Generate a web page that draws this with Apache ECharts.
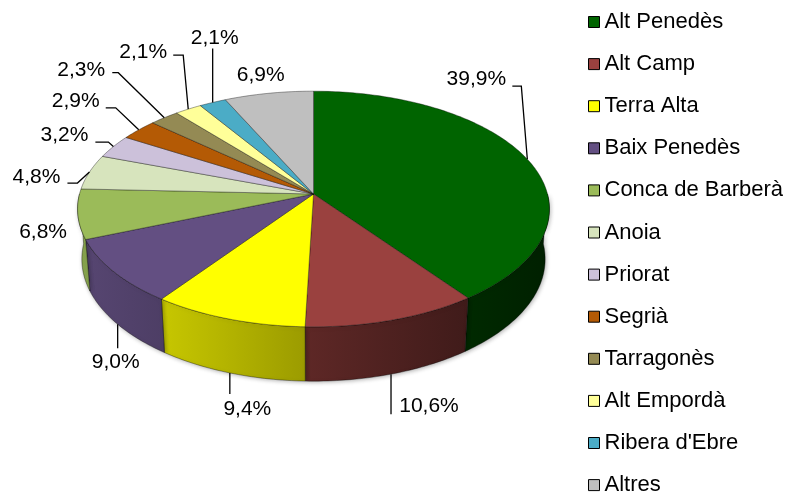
<!DOCTYPE html>
<html>
<head>
<meta charset="utf-8">
<script src="https://cdn.jsdelivr.net/npm/echarts@6/dist/echarts.min.js"></script>
<style>
  html, body { margin: 0; padding: 0; background: #ffffff; }
  #chart { width: 795px; height: 495px; }
</style>
</head>
<body>
<div id="chart"></div>
<script>
// Share of each comarca (%)
const categories = ['Alt Penedès', 'Alt Camp', 'Terra Alta', 'Baix Penedès', 'Conca de Barberà', 'Anoia',
  'Priorat', 'Segrià', 'Tarragonès', 'Alt Empordà', "Ribera d'Ebre", 'Altres'];
const shares = [39.9, 10.6, 9.4, 9.0, 6.8, 4.8, 3.2, 2.9, 2.3, 2.1, 2.1, 6.9];

// Slice colours
const palette = ['#006400', '#9A413F', '#FFFF00', '#634F82', '#9BBB59', '#D7E4BD',
  '#CCC1DA', '#B45A05', '#948A54', '#FFFF99', '#4BACC6', '#BFBFBF'];

// Label placement relative to the slice's edge point, plus leader line bends
const labelLayout = [
  { dx: -51, dy: -80, line: [[-6, -73], [-15, -73]] },
  { dx: 38, dy: 32, line: [[0, 40]] },
  { dx: 17.5, dy: 36, line: [[0, 21]] },
  { dx: -2, dy: 38, line: [[0, 24]] },
  { dx: -39, dy: -32, line: [] },
  { dx: -53, dy: 5, line: [[-12, 11], [-22, 11]] },
  { dx: -49, dy: -11.5, line: [[-5, -4.5], [-18, -4.5]] },
  { dx: -63, dy: -29, line: [[-23, -22], [-33, -22]] },
  { dx: -83, dy: -48, line: [[-46, -45], [-52, -45]] },
  { dx: -45, dy: -57, line: [[-5, -54], [-15, -54]] },
  { dx: 2, dy: -64, line: [[0, -54]] },
  { dx: -8, dy: -18, line: [] }
];

const FONT = '"Liberation Sans", Arial, sans-serif';

// Perspective view of a flat cylinder (unit radius)
const view = { cx: 313.5, cy: 194, halfWidth: 234, dist: 6.83, tiltDeg: 29.7, thickness: 0.25 };
const sa = Math.sin(view.tiltDeg * Math.PI / 180);
const ca = Math.cos(view.tiltDeg * Math.PI / 180);
const F = view.halfWidth * view.dist;

// phi: degrees clockwise from the back (12 o'clock), r: radius, h: height (0 = top face)
function project(phi, r, h) {
  const p = phi * Math.PI / 180;
  const x = r * Math.sin(p), z = -r * Math.cos(p), y = h;
  const yc = y * ca - z * sa;
  const zc = z * ca + y * sa;
  const s = F / (view.dist - zc);
  return [view.cx + x * s, view.cy - yc * s];
}

const total = shares.reduce((a, b) => a + b, 0);
const startDeg = [];
shares.reduce((acc, v, i) => { startDeg[i] = acc / total * 360; return acc + v; }, 0);

function shade(hex, k) {
  const n = parseInt(hex.slice(1), 16);
  const r = Math.round(((n >> 16) & 255) * k);
  const g = Math.round(((n >> 8) & 255) * k);
  const b = Math.round((n & 255) * k);
  return 'rgb(' + r + ',' + g + ',' + b + ')';
}

function wallFill(hex) {
  const left = view.cx - view.halfWidth, right = view.cx + view.halfWidth;
  return new echarts.graphic.LinearGradient(left, 0, right, 0, [
    { offset: 0, color: shade(hex, 0.88) },
    { offset: 1, color: shade(hex, 0.32) }
  ], true);
}

function arcPoints(a0, a1, r, h) {
  const n = Math.max(2, Math.ceil((a1 - a0) / 1));
  const pts = [];
  for (let k = 0; k <= n; k++) pts.push(project(a0 + (a1 - a0) * k / n, r, h));
  return pts;
}

function renderSlice(i) {
  const a0 = startDeg[i];
  const a1 = a0 + shares[i] / total * 360;
  const color = palette[i];
  const children = [];

  // Outer wall, only where it faces the viewer
  const lo = Math.max(a0, 90), hi = Math.min(a1, 270);
  if (hi > lo) {
    const top = arcPoints(lo, hi, 1, 0);
    const bot = arcPoints(lo, hi, 1, -view.thickness).reverse();
    children.push({
      type: 'polygon', z2: 1,
      shape: { points: top.concat(bot) },
      style: {
        fill: wallFill(color), stroke: 'rgba(0,0,0,0.6)', lineWidth: 0.6,
        shadowBlur: 4, shadowColor: 'rgba(0,0,0,0.3)', shadowOffsetX: 1, shadowOffsetY: 1
      }
    });
  }

  // Top face
  children.push({
    type: 'polygon', z2: 5,
    shape: { points: [project(0, 0, 0)].concat(arcPoints(a0, a1, 1, 0)) },
    style: { fill: color, stroke: 'rgba(0,0,0,0.6)', lineWidth: 0.6 }
  });

  // Percentage label with leader line
  const mid = (a0 + a1) / 2;
  const front = mid > 90 && mid < 270;
  const anchor = project(mid, 1, front ? -view.thickness : 0);
  const lay = labelLayout[i];
  if (lay.line.length) {
    const pts = [anchor].concat(lay.line.map(p => [anchor[0] + p[0], anchor[1] + p[1]]));
    children.push({
      type: 'polyline', z2: 20,
      shape: { points: pts },
      style: { stroke: '#000', lineWidth: 1.3, fill: null }
    });
  }
  children.push({
    type: 'text', z2: 21,
    x: anchor[0] + lay.dx, y: anchor[1] + lay.dy,
    style: {
      text: shares[i].toFixed(1).replace('.', ',') + '%',
      fill: '#000', fontSize: 21, fontFamily: FONT,
      align: 'center', verticalAlign: 'middle'
    }
  });

  return { type: 'group', children };
}

const chart = echarts.init(document.getElementById('chart'), null, { renderer: 'canvas' });
chart.setOption({
  animation: false,
  backgroundColor: '#ffffff',
  legend: {
    orient: 'vertical', left: 588, top: 11, height: 600, padding: 0,
    itemWidth: 11, itemHeight: 11, itemGap: 20.1, icon: 'rect',
    itemStyle: { borderColor: '#000', borderWidth: 1 },
    textStyle: { fontFamily: FONT, fontSize: 22, color: '#000' },
    data: categories
  },
  series: categories.map((name, i) => ({
    type: 'custom',
    name,
    coordinateSystem: 'none',
    silent: true,
    itemStyle: { color: palette[i] },
    data: [shares[i]],
    renderItem: () => renderSlice(i)
  }))
});
</script>
</body>
</html>
